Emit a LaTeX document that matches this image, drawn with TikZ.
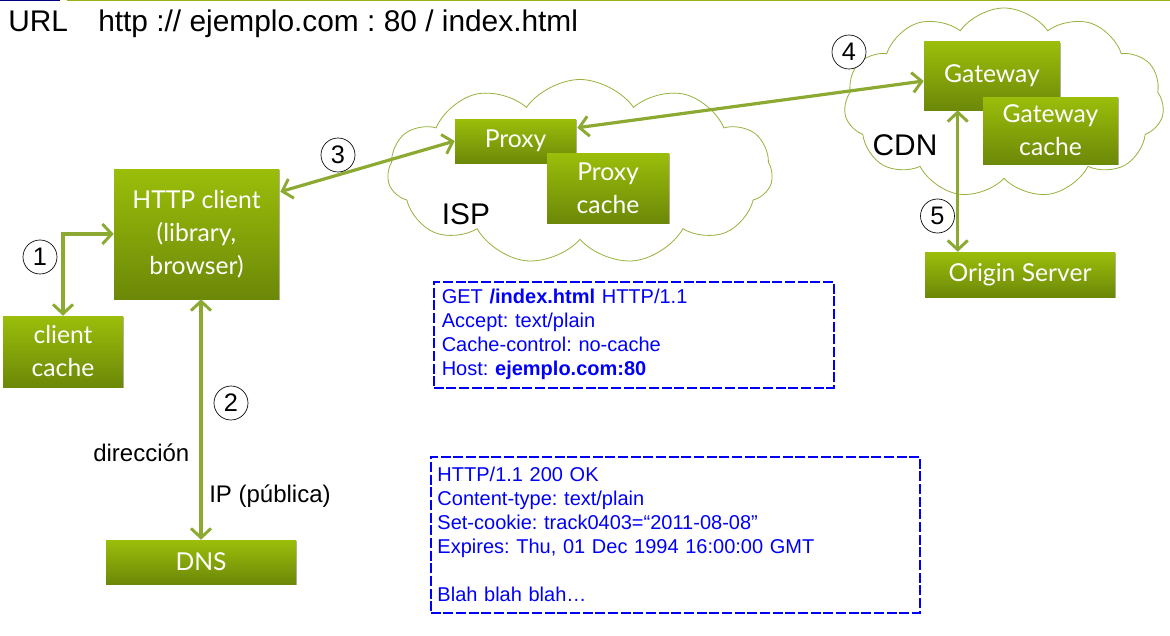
\documentclass[tikz,border=0pt]{standalone}
\usepackage{fontspec}
\setmainfont{Liberation Sans}
\newfontfamily\boxfont{Lato}
\usetikzlibrary{arrows.meta,shapes.symbols,calc,shadows}
\definecolor{gtop}{RGB}{155,190,10}
\definecolor{gbot}{RGB}{108,136,8}
\definecolor{arrg}{RGB}{140,170,50}
\definecolor{cloudg}{RGB}{150,178,60}
\definecolor{hblue}{RGB}{0,0,250}
\definecolor{topblue}{RGB}{0,0,128}
\definecolor{topgreen}{RGB}{150,180,20}
\frenchspacing
\tikzset{
  gbox/.style={top color=gtop,bottom color=gbot,draw=none,text=white,
    font=\boxfont\fontsize{18.5}{24.75}\selectfont,align=center,inner sep=0pt,
    drop shadow={shadow xshift=1pt,shadow yshift=-1pt,opacity=0.3,fill=black}},
  sz/.style 2 args={minimum width=#1*0.75pt,minimum height=#2*0.75pt},
  arr/.style={draw=arrg,line width=2.4pt,line cap=round,
    {Straight Barb[length=7pt,width=15pt,line width=2.2pt]}-{Straight Barb[length=7pt,width=15pt,line width=2.2pt]}},
  num/.style={circle,draw=black,line width=0.5pt,fill=white,minimum size=25.5pt,inner sep=0pt,
    font=\fontsize{19}{19}\selectfont},
  lbl/.style={font=\fontsize{18}{18}\selectfont,inner sep=0pt},
  big/.style={font=\fontsize{22.4}{22.4}\selectfont,inner sep=0pt},
  cld/.style={cloud,cloud puffs=11,cloud puff arc=110,draw=cloudg,line width=0.6pt,fill=white},
  msg/.style={draw=hblue,line width=1.2pt,dash pattern=on 7.5pt off 2pt,text=hblue,
    font=\fontsize{15}{18}\selectfont,align=left,inner sep=0pt,anchor=north west}
}
\begin{document}
\begin{tikzpicture}[x=0.75pt,y=-0.75pt]
\useasboundingbox (0,0) rectangle (1170,635);
\fill[white] (0,0) rectangle (1170,635);
% top rule
\draw[topblue,line width=1.5pt] (0,0.5) -- (60,0.5);
\draw[topgreen,line width=1.5pt] (67,0.5) -- (1170,0.5);
% title
\node[big,anchor=base west] (url) at (8,32) {URL};
\node[big,anchor=base west] (addr) at (98,32) {http :// ejemplo.com : 80 / index.html};
% clouds
\node[cld,sz={385}{185}] (isp) at (580,172) {};
\node[cld,sz={320}{190}] (cdn) at (1004,103) {};
\node[big] (isptxt) at (466,214) {ISP};
\node[big] (cdntxt) at (905,145) {CDN};
% boxes
\node[gbox,sz={165}{130}] (hc) at (196.5,234) {HTTP client\\(library,\\browser)};
\node[gbox,sz={120}{71}] (cc) at (63,351.5) {client\\cache};
\node[gbox,sz={190}{44}] (dns) at (201,562) {DNS};
\node[gbox,sz={121}{44}] (proxy) at (515.5,141) {Proxy};
\node[gbox,sz={122}{70}] (pc) at (608,188) {Proxy\\cache};
\node[gbox,sz={136}{68}] (gw) at (992,76) {Gateway};
\node[gbox,sz={135}{67}] (gc) at (1050.5,130.5) {Gateway\\cache};
\node[gbox,sz={190}{45}] (os) at (1020,274.5) {Origin Server};
% connectors
\draw[arr] (cc.north) |- (hc.west);
\draw[arr] (hc.south -| dns.north) -- (dns.north);
\draw[arr] ($(hc.north east)+(1,23)$) -- (proxy.west);
\draw[arr] ($(proxy.north east)+(1,9)$) -- ($(gw.west)+(0,5)$);
\draw[arr] ($(gw.south west)+(34,0)$) -- ($(os.north west)+(33,0)$);
% step numbers
\node[num] (n1) at (40,257) {1};
\node[num] (n2) at (231,403) {2};
\node[num] (n3) at (338,155) {3};
\node[num] (n4) at (849,52) {4};
\node[num] (n5) at (937.5,216) {5};
% labels
\node[lbl,anchor=base west] (dir) at (93,461) {dirección};
\node[lbl,anchor=base west] (ip) at (209,502) {IP (pública)};
% messages
\node[msg,sz={400}{106},text width=384*0.75pt,inner xsep=6pt,inner ysep=5pt] (req) at (433,281)
  {GET \textbf{/index.html} HTTP/1.1\\Accept: text/plain\\Cache-control: no-cache\\Host: \textbf{ejemplo.com:80}};
\node[msg,sz={488}{156},text width=476*0.75pt,inner xsep=5pt,inner ysep=5pt] (resp) at (430,456)
  {HTTP/1.1 200 OK\\Content-type: text/plain\\Set-cookie: track0403=“2011-08-08”\\Expires: Thu, 01 Dec 1994 16:00:00 GMT\\[18pt]Blah blah blah…};
\end{tikzpicture}
\end{document}
